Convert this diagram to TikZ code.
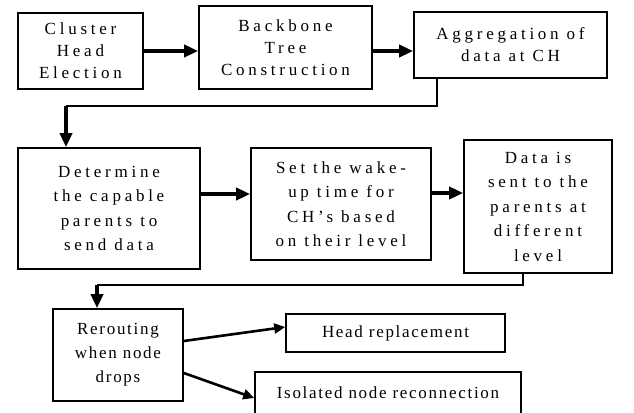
\documentclass[tikz,border=0pt]{standalone}
\usepackage{fontspec}
\setmainfont{Liberation Serif}
\newfontfamily\widefont[LetterSpace=22]{Liberation Serif}
\newfontfamily\tightfont[LetterSpace=10]{Liberation Serif}
\usetikzlibrary{arrows.meta}

\begin{document}
\begin{tikzpicture}[x=1pt,y=-1pt,
 m/.style={draw,line width=1.6pt,align=center,inner sep=0pt,font=\widefont\fontsize{17}{24.5}\selectfont},
 mtop/.style={m,font=\widefont\fontsize{17}{22}\selectfont},
 mlow/.style={m,font=\tightfont\fontsize{17}{24}\selectfont},
 ln/.style={line width=1.3pt},
 ar/.style={-{Triangle[length=14pt,width=12pt]},line width=3.5pt},
 br/.style={-{Triangle[length=11pt,width=10pt]},line width=2.6pt}]
\useasboundingbox (0,0) rectangle (634,412);
% first row
\node[mtop,minimum width=125pt,minimum height=76pt] (ch) at (80.5,51) {Cluster\\Head\\Election};
\node[mtop,minimum width=173pt,minimum height=83pt] (bb) at (285.5,47.5) {Backbone\\Tree\\Construction};
\node[mtop,minimum width=193pt,minimum height=66pt] (ag) at (510.5,45) {Aggregation of\\data at CH};
% second row
\node[m,minimum width=182pt,minimum height=121pt] (dp) at (109,208.5) {Determine\\the capable\\parents to\\send data};
\node[m,minimum width=180pt,minimum height=112pt] (wk) at (341,204) {Set the wake-\\up time for\\CH’s based\\on their level};
\node[m,minimum width=148pt,minimum height=133pt] (ds) at (538,206.5) {Data is\\sent to the\\parents at\\different\\level};
% third row
\node[mlow,minimum width=130pt,minimum height=92pt] (rr) at (118,355) {Rerouting\\when node\\drops};
\node[mlow,minimum width=219pt,minimum height=38pt] (hr) at (395.5,333) {Head replacement};
\node[mlow,minimum width=266pt,minimum height=42pt] (ir) at (388,393) {Isolated node reconnection};
\coordinate (k1) at (437,106);
\coordinate (k2) at (66,106);
\coordinate (k3) at (523,285);
\coordinate (k4) at (97,285);
\draw[ar] (ch.east) -- (ch.east -| bb.west);
\draw[ar] (bb.east |- ch.east) -- (ag.west |- ch.east);
\draw[ln] (k1 |- ag.south) -- (k1) -- (k2);
\draw[ar] (k2) -- (k2 |- dp.north);
\draw[ar] ([yshift=14.5pt]dp.east) -- ([yshift=10pt]wk.west);
\draw[ar] ([yshift=11pt]wk.east) -- ([yshift=13.5pt]ds.west);
\draw[ln] (k3 |- ds.south) -- (k3) -- (k4);
\draw[ar] (k4) -- (k4 |- rr.north);
\draw[br] ([yshift=14pt]rr.east) -- ([yshift=6pt]hr.west);
\draw[br] ([yshift=-18pt]rr.east) -- ([yshift=-5pt]ir.west);
\end{tikzpicture}
\end{document}
